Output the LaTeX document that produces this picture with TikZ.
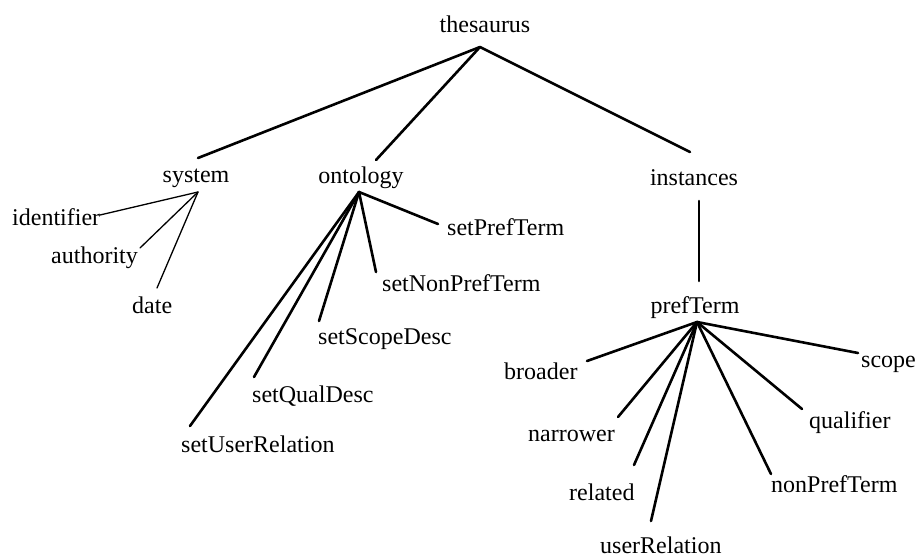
\documentclass[tikz,border=0pt]{standalone}
\usepackage{fontspec}
\setmainfont{Liberation Serif}
\begin{document}
\begin{tikzpicture}[x=1pt,y=-1pt,
  lbl/.style={inner sep=0pt,font=\fontsize{24}{28}\selectfont},
  thick edge/.style={line width=2.6pt,line cap=round},
  thin edge/.style={line width=1.3pt,line cap=round}]
\useasboundingbox (0,0) rectangle (918,557);
% labels
\node[lbl] (thes) at (485,24) {thesaurus};
\node[lbl] (sys) at (196,178) {system};
\node[lbl] (ont) at (361,178) {ontology};
\node[lbl] (inst) at (694,178) {instances};
\node[lbl,anchor=west] (ident) at (12,217) {identifier};
\node[lbl,anchor=west] (auth) at (51,258) {authority};
\node[lbl,anchor=west] (date) at (132,305) {date};
\node[lbl,anchor=west] (sPT) at (447,227) {setPrefTerm};
\node[lbl,anchor=west] (sNPT) at (382,283) {setNonPrefTerm};
\node[lbl,anchor=west] (sSD) at (318,339) {setScopeDesc};
\node[lbl,anchor=west] (sQD) at (252,396) {setQualDesc};
\node[lbl,anchor=west] (sUR) at (181,444) {setUserRelation};
\node[lbl] (pref) at (695,308) {prefTerm};
\node[lbl,anchor=west] (broad) at (504,371) {broader};
\node[lbl,anchor=west] (narr) at (528,436) {narrower};
\node[lbl,anchor=west] (rel) at (569,492) {related};
\node[lbl,anchor=west] (uRel) at (600,545) {userRelation};
\node[lbl,anchor=west] (nPT) at (771,484) {nonPrefTerm};
\node[lbl,anchor=west] (qual) at (809,423) {qualifier};
\node[lbl,anchor=west] (scope) at (861,364) {scope};
% connector points
\coordinate (thesA) at (480,47);
\coordinate (sysT) at (198,158);
\coordinate (ontT) at (376,160);
\coordinate (instT) at (690,152);
\coordinate (sysA) at (198,192);
\coordinate (identE) at (100,215);
\coordinate (authE) at (140,248);
\coordinate (dateE) at (157,288);
\coordinate (ontA) at (359,192);
\coordinate (sPTE) at (438,224);
\coordinate (sNPTE) at (376,272);
\coordinate (sSDE) at (319,321);
\coordinate (sQDE) at (254,377);
\coordinate (sURE) at (190,426);
\coordinate (instB) at (699,201);
\coordinate (prefT) at (699,281);
\coordinate (prefA) at (697,322);
\coordinate (broadE) at (587,361);
\coordinate (narrE) at (618,417);
\coordinate (relE) at (634,465);
\coordinate (uRelE) at (651,521);
\coordinate (nPTE) at (771,474);
\coordinate (qualE) at (802,409);
\coordinate (scopeE) at (858,353);
% connectors
\draw[thick edge] (thesA) -- (sysT);
\draw[thick edge] (thesA) -- (ontT);
\draw[thick edge] (thesA) -- (instT);
\draw[thin edge] (sysA) -- (identE);
\draw[thin edge] (sysA) -- (authE);
\draw[thin edge] (sysA) -- (dateE);
\foreach \e in {sPTE,sNPTE,sSDE,sQDE,sURE}
  \draw[thick edge] (ontA) -- (\e);
\draw[thick edge] (instB) -- (prefT);
\foreach \e in {broadE,narrE,relE,uRelE,nPTE,qualE,scopeE}
  \draw[thick edge] (prefA) -- (\e);
\end{tikzpicture}
\end{document}
